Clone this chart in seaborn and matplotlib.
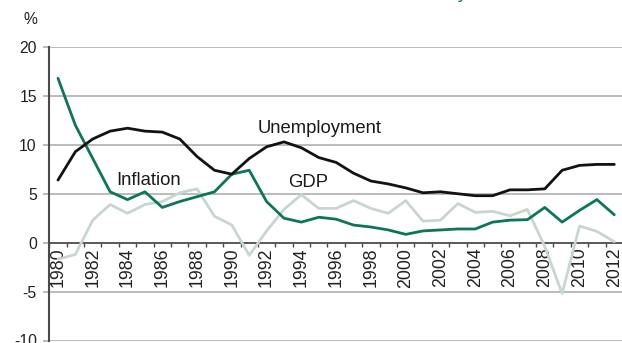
import numpy as np
import pandas as pd
import matplotlib
matplotlib.use("Agg")
import matplotlib.pyplot as plt
from matplotlib.ticker import FixedLocator
import seaborn as sns

# Annual rates, %
years = list(range(1980, 2013))
unemployment = [6.4, 9.3, 10.6, 11.4, 11.7, 11.4, 11.3, 10.6, 8.8, 7.4,
                7.0, 8.6, 9.8, 10.3, 9.7, 8.7, 8.2, 7.1, 6.3, 6.0,
                5.6, 5.1, 5.2, 5.0, 4.8, 4.8, 5.4, 5.4, 5.5, 7.4,
                7.9, 8.0, 8.0]
inflation = [16.8, 12.0, 8.6, 5.2, 4.4, 5.2, 3.6, 4.2, 4.7, 5.2,
             7.0, 7.4, 4.2, 2.5, 2.1, 2.6, 2.4, 1.8, 1.6, 1.3,
             0.85, 1.2, 1.3, 1.4, 1.4, 2.1, 2.3, 2.35, 3.6, 2.1,
             3.3, 4.4, 2.85]
gdp = [-1.7, -1.2, 2.3, 3.9, 3.0, 3.9, 4.2, 5.1, 5.5, 2.7,
       1.8, -1.3, 1.2, 3.4, 4.9, 3.5, 3.5, 4.3, 3.5, 3.0,
       4.3, 2.2, 2.3, 4.0, 3.1, 3.2, 2.75, 3.4, -0.4, -5.2,
       1.7, 1.15, 0.1]
series_names = ["GDP", "Inflation", "Unemployment"]
series_colors = {"GDP": "#c9d6cf", "Inflation": "#0b7658", "Unemployment": "#121212"}
y_ticks = [-10, -5, 0, 5, 10, 15, 20]
label_years = [y for y in years if y % 2 == 0]

df = pd.DataFrame({
    "year": years * 3,
    "value": gdp + inflation + unemployment,
    "series": ["GDP"] * len(years) + ["Inflation"] * len(years) + ["Unemployment"] * len(years),
})

sns.set_theme(style="white")
plt.rcParams["font.family"] = ["Liberation Sans", "DejaVu Sans"]

fig = plt.figure(figsize=(6.22, 3.43), dpi=100)
ax = fig.add_axes([49.3 / 622, 2.5 / 343, 573.7 / 622, 293.5 / 343])

sns.lineplot(data=df, x="year", y="value", hue="series", hue_order=series_names,
             palette=series_colors, linewidth=2.0, legend=False, ax=ax, zorder=3)

ax.set_xlim(years[0] - 0.5, years[-1] + 0.5)
ax.set_ylim(-10, 20)
ax.set_xlabel("")
ax.set_ylabel("")

# horizontal gridlines
ax.set_yticks(y_ticks)
ax.set_yticklabels([str(t) for t in y_ticks], fontsize=11.3, color="#222222")
ax.yaxis.grid(True, color="#a8a8a8", linewidth=1.1)
ax.xaxis.grid(False)
ax.tick_params(axis="y", length=4, width=1.1, color="#a8a8a8", pad=5.0, left=True)

# category axis crossing at zero
ax.spines["bottom"].set_position(("data", 0))
ax.spines["bottom"].set_color("#4a4a4a")
ax.spines["bottom"].set_linewidth(1.2)
ax.spines["left"].set_color("#4a4a4a")
ax.spines["left"].set_linewidth(1.5)
ax.spines["top"].set_visible(False)
ax.spines["right"].set_visible(False)

ax.xaxis.set_major_locator(FixedLocator([y - 0.5 for y in years] + [years[-1] + 0.5]))
ax.xaxis.set_minor_locator(FixedLocator(label_years))
ax.tick_params(axis="x", which="major", direction="out", length=3, width=1.0,
               color="#4a4a4a", labelbottom=False, bottom=True)
ax.set_xticks(label_years, minor=True)
ax.set_xticklabels([str(y) for y in label_years], minor=True, rotation=90,
                   fontsize=12.8, color="#222222")
ax.tick_params(axis="x", which="minor", length=0, pad=3.6, bottom=True)

# series labels
lab_kw = dict(fontsize=13.3, color="#1a1a1a", ha="center", va="center", zorder=4)
ax.text(1995.06, 11.7, "Unemployment", **lab_kw)
ax.text(1985.2, 6.4, "Inflation", **lab_kw)
ax.text(1994.4, 6.1, "GDP", **lab_kw)

fig.text(30 / 622, 1 - 19 / 343, "%", fontsize=11.3, color="#222222", ha="center", va="center")
fig.text(468 / 622, 1 + 2 / 343, "Economy", fontsize=13.5, color="#0b7658",
         ha="right", va="baseline")

fig.savefig("out.png", dpi=100)
